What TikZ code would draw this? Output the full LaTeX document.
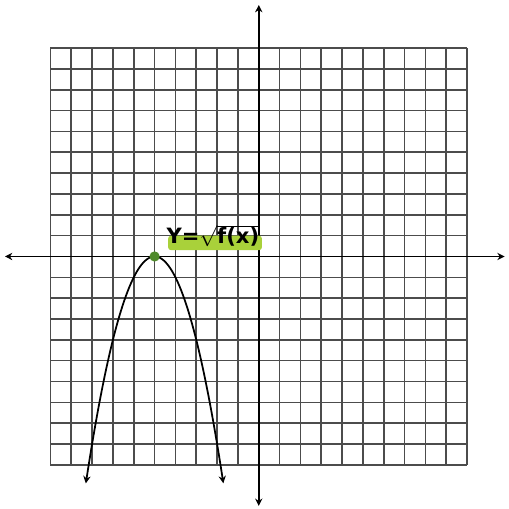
\documentclass[tikz,border=0pt]{standalone}
\usepackage{fontspec}
\setsansfont{DejaVu Sans}
\usetikzlibrary{arrows.meta}
\definecolor{marker}{HTML}{A9D13A}
\definecolor{dotgreen}{HTML}{4F8A2B}
\tikzset{
  gridline/.style={line width=1.1pt,black!70},
  axisline/.style={line width=1.2pt,black,{Stealth[length=5pt,width=5pt]}-{Stealth[length=5pt,width=5pt]}},
  curveline/.style={line width=1.2pt,black,smooth},
}
\begin{document}
\begin{tikzpicture}[scale=0.5]
  \useasboundingbox[fill=white] (-12.42,-12.12) rectangle (11.99,12.31);
  \draw[gridline] (-10,-10) grid (10,10);
  \draw[axisline] (-12.18,0) -- (11.8,0);
  \draw[axisline] (0,-11.97) -- (0,12.07);
  % highlighter stroke behind the label
  \fill[marker,rounded corners=2pt] (-4.35,0.3) rectangle (0.15,1.0);
  \draw[curveline,-{Stealth[length=5pt,width=5pt]},domain=-5:-1.7,samples=80]
    plot ({\x},{-(\x+5)*(\x+5)});
  \draw[curveline,{Stealth[length=5pt,width=5pt]}-,domain=-8.3:-5,samples=80]
    plot ({\x},{-(\x+5)*(\x+5)});
  \fill[dotgreen] (-5,0) circle (7pt);
  \node[font=\sffamily\bfseries\Large,inner sep=0pt] (label) at (-2.2,1.0)
    {Y=$\sqrt{\hbox{\sffamily\bfseries\Large f(x)}}$};
\end{tikzpicture}
\end{document}
